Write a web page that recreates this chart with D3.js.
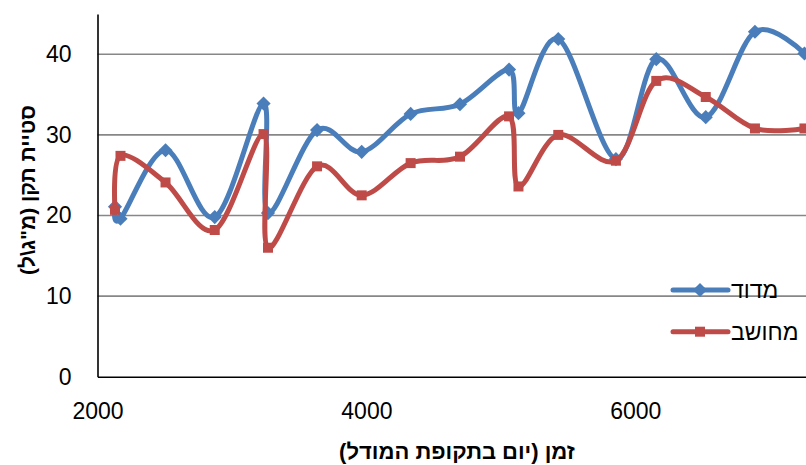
<!DOCTYPE html>
<html>
<head>
<meta charset="utf-8">
<script src="https://cdn.jsdelivr.net/npm/d3@7"></script>
<style>
  body { margin: 0; background: #fff; }
  svg { display: block; font-family: "Liberation Sans", Arial, sans-serif; }
</style>
</head>
<body>
<div id="chart"></div>
<script>
// days in model period (shared by both series)
var days = [2130, 2171, 2506, 2872, 3235, 3268, 3633, 3965, 4329, 4696,
            5061, 5131, 5427, 5856, 6156, 6524, 6890, 7258];
var measured = [21.1, 19.6, 28.1, 19.8, 33.9, 20.3, 30.6, 27.9, 32.6, 33.8,
                38.1, 32.7, 41.9, 27.0, 39.4, 32.2, 42.8, 40.1];
var computed = [20.7, 27.4, 24.1, 18.2, 30.1, 16.0, 26.1, 22.5, 26.5, 27.3,
                32.3, 23.6, 30.0, 26.8, 36.7, 34.7, 30.8, 30.8];
var seriesNames = ["מדוד", "מחושב"];
var xTicks = [2000, 4000, 6000];
var yTicks = [0, 10, 20, 30, 40];
var xTitle = "זמן (יום בתקופת המודל)";
var yTitle = "סטיית תקן (מ\"ג\\ל)";

function init() {

    var w = 806;
    var h = 465;

    var left = 97.5, top = 14, bottom = 376.7;

    var svg = d3.select("#chart")
                .append("svg")
                .attr("width", w)
                .attr("height", h);

    var xScale = d3.scaleLinear()
                   .domain([2000, 8000])
                   .range([left, left + 6000 * 0.13445]);

    var yScale = d3.scaleLinear()
                   .domain([0, 45])
                   .range([bottom, top]);

    // gridlines
    svg.append("g")
       .selectAll("line")
       .data(yTicks.filter(function(d) { return d > 0; }))
       .enter()
       .append("line")
       .attr("x1", left)
       .attr("x2", xScale(8000))
       .attr("y1", function(d) { return yScale(d); })
       .attr("y2", function(d) { return yScale(d); })
       .attr("stroke", "#878787")
       .attr("stroke-width", 1.6);

    var xAxis = d3.axisBottom(xScale)
                  .tickValues(xTicks)
                  .tickSize(0)
                  .tickPadding(26)
                  .tickFormat(d3.format("d"));

    var yAxis = d3.axisLeft(yScale)
                  .tickValues(yTicks)
                  .tickSize(0)
                  .tickPadding(26);

    var gx = svg.append("g")
       .attr("transform", "translate(0," + bottom + ")")
       .call(xAxis);
    var gy = svg.append("g")
       .attr("transform", "translate(" + left + ",0)")
       .call(yAxis);

    [gx, gy].forEach(function(g) {
        g.select(".domain").attr("stroke", "#000").attr("stroke-width", 1.6);
        g.selectAll("text")
         .attr("font-family", "Liberation Sans, Arial, sans-serif")
         .attr("font-size", 23)
         .attr("fill", "#000");
    });

    var colors = ["#4A7EBB", "#BE4B48"];
    var data = [measured, computed];

    var line = d3.line()
                 .x(function(d, i) { return xScale(days[i]); })
                 .y(function(d) { return yScale(d); })
                 .curve(d3.curveCardinal.tension(0));

    var diamond = d3.symbol().type(d3.symbolSquare).size(100);
    var square = d3.symbol().type(d3.symbolSquare).size(100);

    data.forEach(function(vals, k) {
        svg.append("path")
           .datum(vals)
           .attr("d", line)
           .attr("fill", "none")
           .attr("stroke", colors[k])
           .attr("stroke-width", 5)
           .attr("stroke-linejoin", "round");

        svg.append("g")
           .selectAll("path")
           .data(vals)
           .enter()
           .append("path")
           .attr("d", k === 0 ? diamond : square)
           .attr("transform", function(d, i) {
               return "translate(" + xScale(days[i]) + "," + yScale(d) + ")" +
                      (k === 0 ? " rotate(45)" : "");
           })
           .attr("fill", colors[k]);
    });

    // legend
    var legend = svg.append("g");
    seriesNames.forEach(function(name, k) {
        var ly = 290 + k * 41.7;
        legend.append("line")
              .attr("x1", 673).attr("x2", 728)
              .attr("y1", ly).attr("y2", ly)
              .attr("stroke", colors[k])
              .attr("stroke-width", 5)
              .attr("stroke-linecap", "round");
        legend.append("path")
              .attr("d", k === 0 ? diamond : square)
              .attr("transform", "translate(700," + ly + ")" + (k === 0 ? " rotate(45)" : ""))
              .attr("fill", colors[k]);
        legend.append("text")
              .attr("x", 731)
              .attr("y", ly)
              .attr("dy", "0.35em")
              .attr("font-size", 23)
              .text(name);
    });

    svg.append("text")
       .attr("x", 457)
       .attr("y", 459)
       .attr("text-anchor", "middle")
       .attr("direction", "rtl")
       .attr("font-size", 22)
       .attr("font-weight", "bold")
       .text(xTitle);

    svg.append("text")
       .attr("transform", "translate(35,190) rotate(-90)")
       .attr("text-anchor", "middle")
       .attr("direction", "rtl")
       .attr("font-size", 21)
       .attr("font-weight", "bold")
       .text(yTitle);
}

window.onload = init;
</script>
</body>
</html>
